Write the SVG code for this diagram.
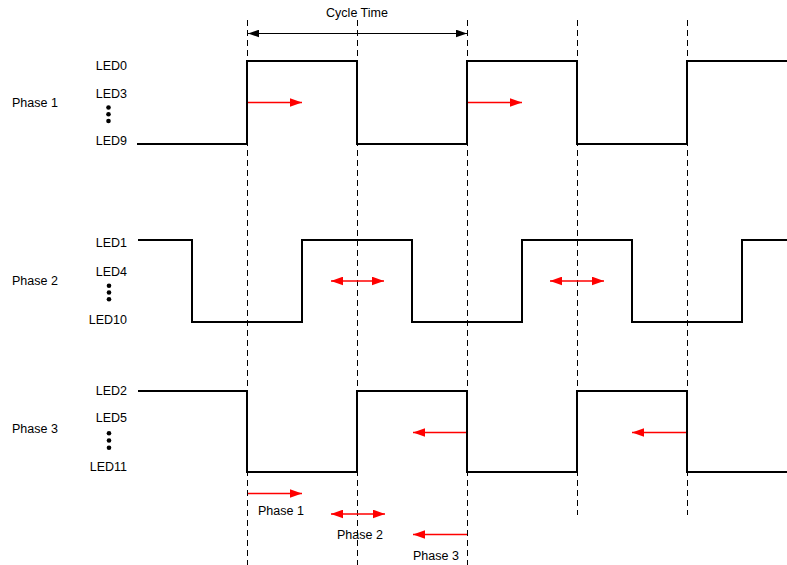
<svg xmlns="http://www.w3.org/2000/svg" width="787" height="565" viewBox="0 0 787 565">
<style>
text{font-family:"Liberation Sans",Arial,sans-serif;font-size:12.5px;fill:#000}
.lab{text-anchor:end}
.wave{fill:none;stroke:#000;stroke-width:2}
.dash{stroke:#000;stroke-width:1;stroke-dasharray:6,4;fill:none}
.redr{stroke:#ff0000;stroke-width:1.5;fill:none;marker-end:url(#ra)}
.redd{stroke:#ff0000;stroke-width:1.5;fill:none;marker-end:url(#ra);marker-start:url(#ra)}
</style>
<defs>
<marker id="ra" markerUnits="userSpaceOnUse" markerWidth="12" markerHeight="9" refX="11" refY="4" orient="auto-start-reverse" viewBox="0 0 11 8">
<path d="M0,0 L11,4 L0,8 Z" fill="#ff0000"/>
</marker>
<marker id="ba" markerUnits="userSpaceOnUse" markerWidth="11" markerHeight="8" refX="10" refY="3.5" orient="auto-start-reverse" viewBox="0 0 10 7">
<path d="M0,0 L10,3.5 L0,7 Z" fill="#000"/>
</marker>
</defs>
<rect width="787" height="565" fill="#fff"/>
<g id="gridlines">
<line class="dash" x1="247.5" y1="20" x2="247.5" y2="565"/>
<line class="dash" x1="357.5" y1="20" x2="357.5" y2="565"/>
<line class="dash" x1="467.5" y1="20" x2="467.5" y2="565"/>
<line class="dash" x1="577.5" y1="20" x2="577.5" y2="515"/>
<line class="dash" x1="687.5" y1="20" x2="687.5" y2="515"/>
</g>
<g id="cycle-time">
<line x1="248" y1="33.5" x2="467" y2="33.5" stroke="#000" stroke-width="1" marker-start="url(#ba)" marker-end="url(#ba)"/>
<text x="357" y="17" text-anchor="middle">Cycle Time</text>
</g>
<g id="phase1">
<text x="12" y="106.5">Phase 1</text>
<text class="lab" x="127" y="69.5">LED0</text>
<text class="lab" x="127" y="97.5">LED3</text>
<circle cx="108.5" cy="107.5" r="2.3"/>
<circle cx="108.5" cy="114.3" r="2.3"/>
<circle cx="108.5" cy="121" r="2.3"/>
<text class="lab" x="127" y="144.5">LED9</text>
<path class="wave" d="M137,144 H247 V61 H357 V144 H467 V61 H577 V144 H687 V61 H787"/>
</g>
<g id="phase2">
<text x="12" y="284.5">Phase 2</text>
<text class="lab" x="127" y="247">LED1</text>
<text class="lab" x="127" y="276">LED4</text>
<circle cx="109" cy="285.7" r="2.3"/>
<circle cx="109" cy="292.5" r="2.3"/>
<circle cx="109" cy="299.3" r="2.3"/>
<text class="lab" x="127" y="323.5">LED10</text>
<path class="wave" d="M138,240 H192 V322 H302 V240 H412 V322 H522 V240 H632 V322 H742 V240 H787"/>
</g>
<g id="phase3">
<text x="12" y="432.5">Phase 3</text>
<text class="lab" x="127" y="394.5">LED2</text>
<text class="lab" x="127" y="421.5">LED5</text>
<circle cx="109" cy="433.3" r="2.3"/>
<circle cx="109" cy="440.5" r="2.3"/>
<circle cx="109" cy="447.7" r="2.3"/>
<text class="lab" x="127" y="470.5">LED11</text>
<path class="wave" d="M138,391 H247 V472 H357 V391 H467 V472 H577 V391 H687 V472 H787"/>
</g>
<g id="connectors">
<line class="redr" x1="248" y1="102.5" x2="302" y2="102.5"/>
<line class="redr" x1="468" y1="102.5" x2="522" y2="102.5"/>
<line class="redd" x1="331" y1="281" x2="384" y2="281"/>
<line class="redd" x1="550" y1="281" x2="604" y2="281"/>
<line class="redr" x1="466" y1="432.5" x2="413" y2="432.5"/>
<line class="redr" x1="686" y1="432.5" x2="632" y2="432.5"/>
</g>
<g id="legend">
<line class="redr" x1="248" y1="493.5" x2="302" y2="493.5"/>
<text x="258" y="515">Phase 1</text>
<line class="redd" x1="331" y1="514" x2="385" y2="514"/>
<text x="337" y="538.5">Phase 2</text>
<line class="redr" x1="467" y1="534.5" x2="413" y2="534.5"/>
<text x="413" y="560">Phase 3</text>
</g>
</svg>
